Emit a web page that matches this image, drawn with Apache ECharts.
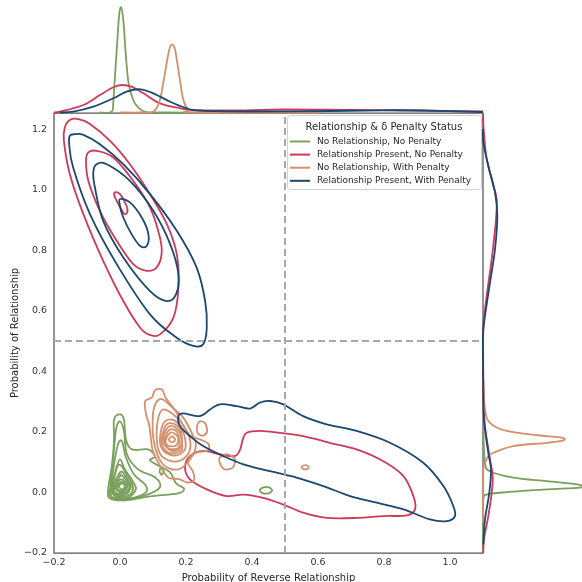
<!DOCTYPE html>
<html><head><meta charset="utf-8">
<script src="https://cdn.jsdelivr.net/npm/echarts@6/dist/echarts.min.js"></script>
<style>html,body{margin:0;padding:0;background:#fff}#c{width:582px;height:582px}</style>
</head><body><div id="c"></div><script>
// ---------- categories / styling keys ----------
const GROUPS = ['No Relationship, No Penalty','Relationship Present, No Penalty','No Relationship, With Penalty','Relationship Present, With Penalty'];
const COLORS = ['#79a15c','#cf3a58','#d48f6c','#1b4770'];
const LEGEND_TITLE = 'Relationship & \u03b4 Penalty Status';
const X_RANGE = [-0.2, 1.1];
const Y_RANGE = [-0.2, 1.253];
const TICK_STEP = 0.2;
const THRESHOLD = 0.5;

// ---------- KDE contour paths (data units) ----------
const greenContours = [
  [[-0.003,0.020],[0.006,0.030],[0.015,0.020],[0.006,0.010]],
  [[-0.008,0.020],[0.005,0.036],[0.020,0.021],[0.008,0.005],[-0.005,0.008]],
  [[-0.012,0.020],[0.003,0.043],[0.024,0.023],[0.009,0.000],[-0.009,0.007]],
  [[-0.017,0.018],[-0.002,0.050],[0.006,0.056],[0.029,0.021],[0.014,-0.003],[-0.012,-0.002]],
  [[-0.021,0.017],[-0.006,0.056],[0.006,0.069],[0.021,0.046],[0.033,0.020],[0.018,-0.007],[-0.009,-0.007]],
  [[-0.023,0.015],[-0.009,0.083],[0.003,0.089],[0.018,0.063],[0.036,0.030],[0.039,0.007],[0.021,-0.012],[-0.012,-0.010]],
  [[-0.024,0.013],[-0.012,0.076],[0.000,0.109],[0.015,0.076],[0.039,0.036],[0.048,0.010],[0.024,-0.017],[-0.015,-0.013]],
  [[-0.027,0.010],[-0.018,0.093],[-0.006,0.159],[0.006,0.169],[0.018,0.116],[0.042,0.060],[0.076,0.026],[0.079,0.000],[0.030,-0.020],[-0.021,-0.017]],
  [[-0.030,0.010],[-0.021,0.109],[-0.012,0.208],[0.000,0.235],[0.012,0.202],[0.021,0.126],[0.055,0.076],[0.106,0.050],[0.121,0.017],[0.076,-0.010],[0.015,-0.023],[-0.027,-0.017]],
  [[0.000,0.258],[0.012,0.241],[0.018,0.175],[0.036,0.142],[0.085,0.142],[0.106,0.119],[0.091,0.106],[0.121,0.086],[0.152,0.066],[0.170,0.030],[0.194,0.013],[0.176,-0.003],[0.091,-0.013],[0.015,-0.026],[-0.030,-0.020],[-0.036,0.010],[-0.024,0.093],[-0.018,0.175],[-0.018,0.241]],
  [[0.120,0.071],[0.126,0.084],[0.132,0.071],[0.126,0.058]],
  [[0.424,0.007],[0.433,0.016],[0.451,0.017],[0.461,0.007],[0.451,-0.002],[0.433,-0.003]]
];
const redContours = [
  [[-0.167,1.206],[-0.152,1.230],[-0.126,1.233],[-0.091,1.217],[-0.030,1.161],[0.030,1.084],[0.091,0.985],[0.142,0.886],[0.172,0.787],[0.177,0.677],[0.162,0.578],[0.121,0.522],[0.091,0.520],[0.061,0.544],[0.010,0.632],[-0.051,0.765],[-0.111,0.919],[-0.152,1.051],[-0.170,1.161]],
  [[-0.096,1.123],[-0.071,1.128],[-0.020,1.106],[0.040,1.029],[0.091,0.941],[0.121,0.842],[0.126,0.787],[0.111,0.743],[0.081,0.732],[0.040,0.754],[-0.010,0.831],[-0.061,0.930],[-0.096,1.029],[-0.103,1.095]],
  [[-0.015,0.991],[0.000,0.985],[0.020,0.946],[0.022,0.925],[0.012,0.921],[-0.005,0.952],[-0.017,0.980]],
  [[0.384,0.197],[0.424,0.203],[0.485,0.197],[0.555,0.186],[0.636,0.164],[0.717,0.142],[0.798,0.103],[0.859,0.054],[0.889,-0.012],[0.894,-0.056],[0.869,-0.076],[0.798,-0.078],[0.717,-0.084],[0.626,-0.084],[0.555,-0.067],[0.495,-0.040],[0.434,-0.018],[0.374,-0.007],[0.323,-0.012],[0.263,0.010],[0.212,0.043],[0.197,0.082],[0.212,0.120],[0.252,0.137],[0.303,0.126],[0.348,0.120],[0.364,0.142],[0.372,0.175]]
];
const orangeContours = [
  [[0.148,0.175],[0.158,0.185],[0.167,0.175],[0.158,0.165]],
  [[0.139,0.175],[0.155,0.198],[0.176,0.182],[0.170,0.155],[0.145,0.155]],
  [[0.135,0.174],[0.150,0.207],[0.171,0.202],[0.180,0.169],[0.176,0.147],[0.148,0.145]],
  [[0.130,0.172],[0.145,0.215],[0.167,0.215],[0.185,0.185],[0.182,0.145],[0.152,0.139]],
  [[0.126,0.170],[0.138,0.220],[0.159,0.228],[0.183,0.207],[0.188,0.165],[0.186,0.139],[0.159,0.129],[0.139,0.137]],
  [[0.121,0.169],[0.130,0.225],[0.152,0.241],[0.176,0.228],[0.194,0.192],[0.197,0.142],[0.167,0.122],[0.133,0.136]],
  [[0.112,0.165],[0.115,0.241],[0.130,0.274],[0.158,0.261],[0.188,0.228],[0.212,0.175],[0.206,0.126],[0.170,0.102],[0.127,0.119]],
  [[0.103,0.165],[0.100,0.258],[0.112,0.301],[0.130,0.307],[0.158,0.281],[0.191,0.248],[0.218,0.195],[0.230,0.155],[0.212,0.109],[0.176,0.076],[0.130,0.093]],
  [[0.076,0.301],[0.097,0.314],[0.106,0.337],[0.127,0.340],[0.139,0.311],[0.167,0.271],[0.188,0.228],[0.212,0.188],[0.242,0.175],[0.267,0.162],[0.267,0.139],[0.233,0.132],[0.212,0.116],[0.206,0.096],[0.221,0.069],[0.224,0.040],[0.203,0.033],[0.182,0.043],[0.164,0.046],[0.145,0.050],[0.121,0.089],[0.100,0.136],[0.094,0.175],[0.088,0.225],[0.079,0.258]],
  [[0.233,0.215],[0.242,0.235],[0.258,0.228],[0.264,0.202],[0.252,0.188],[0.236,0.195]],
  [[0.303,0.116],[0.327,0.126],[0.348,0.109],[0.342,0.083],[0.318,0.076],[0.303,0.096]],
  [[0.550,0.083],[0.556,0.089],[0.567,0.089],[0.572,0.083],[0.567,0.077],[0.556,0.077]]
];
const blueContours = [
  [[-0.152,1.178],[-0.136,1.183],[-0.111,1.181],[-0.061,1.150],[0.010,1.084],[0.091,0.985],[0.172,0.864],[0.232,0.743],[0.258,0.632],[0.263,0.544],[0.252,0.489],[0.222,0.484],[0.172,0.511],[0.091,0.588],[-0.010,0.754],[-0.091,0.919],[-0.142,1.073],[-0.154,1.150]],
  [[-0.071,1.084],[-0.040,1.084],[0.030,1.029],[0.101,0.930],[0.152,0.820],[0.177,0.721],[0.170,0.655],[0.142,0.632],[0.091,0.665],[0.010,0.776],[-0.051,0.897],[-0.076,1.007],[-0.081,1.057]],
  [[0.000,0.969],[0.030,0.958],[0.066,0.908],[0.086,0.853],[0.081,0.814],[0.061,0.814],[0.035,0.853],[0.010,0.908],[0.000,0.946]],
  [[0.177,0.252],[0.192,0.261],[0.242,0.252],[0.273,0.274],[0.303,0.291],[0.354,0.285],[0.394,0.277],[0.424,0.297],[0.455,0.302],[0.495,0.291],[0.555,0.252],[0.626,0.225],[0.717,0.203],[0.818,0.164],[0.919,0.098],[0.980,0.021],[1.010,-0.045],[1.015,-0.078],[0.990,-0.095],[0.939,-0.089],[0.859,-0.056],[0.778,-0.034],[0.697,-0.012],[0.616,0.021],[0.535,0.049],[0.455,0.070],[0.374,0.093],[0.313,0.120],[0.252,0.153],[0.212,0.186],[0.182,0.219]]
];

// ---------- marginal densities (top: [x, density], right: [density, y]) ----------
const topGreen  = [[-0.061,0.05],[-0.025,0.13],[-0.020,1.3],[-0.010,6.3],[-0.003,9.63],[0.003,10.57],[0.010,9.3],[0.018,5.63],[0.026,2.97],[0.040,1.3],[0.055,0.57],[0.076,0.13],[0.121,0.05],[0.300,0.05]];
const topRed    = [[-0.2,0.05],[-0.182,0.13],[-0.111,0.8],[-0.061,1.8],[-0.020,2.57],[0.005,2.8],[0.035,2.63],[0.071,1.97],[0.121,0.97],[0.182,0.47],[0.222,0.3],[0.333,0.25],[0.494,0.35],[0.697,0.3],[0.909,0.25],[1.1,0.15]];
const topOrange = [[0.0,0.05],[0.061,0.05],[0.101,0.13],[0.121,1.3],[0.136,3.97],[0.149,6.3],[0.158,6.87],[0.167,6.3],[0.180,3.63],[0.192,1.3],[0.207,0.3],[0.227,0.05],[0.6,0.05]];
const topBlue   = [[-0.182,0.05],[-0.142,0.13],[-0.081,0.63],[-0.020,1.47],[0.020,2.13],[0.061,2.37],[0.101,1.97],[0.152,1.13],[0.202,0.47],[0.242,0.23],[0.394,0.15],[0.636,0.2],[0.797,0.27],[0.909,0.25],[1.1,0.1]];

const rightGreen  = [[0.03,0.20],[0.2,0.098],[0.7,0.070],[3.03,0.049],[6.37,0.037],[9.53,0.026],[9.7,0.016],[6.37,0.010],[2.37,0.001],[0.37,-0.007],[0.03,-0.023],[0.02,-0.089],[0.0,-0.19]];
const rightRed    = [[0.02,1.25],[0.03,1.217],[0.15,1.167],[0.37,1.101],[1.03,1.013],[1.37,0.969],[1.3,0.902],[1.1,0.836],[0.87,0.770],[0.37,0.649],[0.03,0.549],[0.02,0.440],[0.05,0.307],[0.2,0.219],[0.7,0.109],[0.97,0.054],[0.87,-0.001],[0.53,-0.078],[0.1,-0.155],[0.03,-0.2]];
const rightOrange = [[0.03,0.374],[0.2,0.274],[0.7,0.230],[2.37,0.203],[5.7,0.188],[7.87,0.181],[8.03,0.172],[6.37,0.164],[3.03,0.153],[1.03,0.131],[0.53,0.120],[0.2,0.098],[0.03,0.076],[0.03,0.0],[0.0,-0.1]];
const rightBlue   = [[0.0,1.2],[0.03,1.156],[0.53,1.079],[1.2,0.991],[1.43,0.913],[1.2,0.803],[0.7,0.693],[0.2,0.583],[0.0,0.517],[0.02,0.374],[0.1,0.241],[0.53,0.131],[0.8,0.076],[0.63,-0.001],[0.2,-0.089],[0.03,-0.172]];

// ---------- helpers ----------
const FONT = 'DejaVu Sans';
const LW = 1.8;
const fmt = v => Math.abs(v) < 1e-9 ? '0.0' : (v < 0 ? '\u2212' : '') + Math.abs(v).toFixed(1);

// Catmull-Rom spline through pixel points -> SVG path
function splinePath(pts, closed) {
  const n = pts.length;
  const get = i => closed ? pts[(i + n) % n] : pts[Math.max(0, Math.min(n - 1, i))];
  let d = 'M' + pts[0][0].toFixed(2) + ',' + pts[0][1].toFixed(2);
  const segs = closed ? n : n - 1;
  for (let i = 0; i < segs; i++) {
    const p0 = get(i - 1), p1 = get(i), p2 = get(i + 1), p3 = get(i + 2);
    const c1x = p1[0] + (p2[0] - p0[0]) / 6, c1y = p1[1] + (p2[1] - p0[1]) / 6;
    const c2x = p2[0] - (p3[0] - p1[0]) / 6, c2y = p2[1] - (p3[1] - p1[1]) / 6;
    d += ' C' + c1x.toFixed(2) + ',' + c1y.toFixed(2) + ' ' + c2x.toFixed(2) + ',' + c2y.toFixed(2) + ' ' + p2[0].toFixed(2) + ',' + p2[1].toFixed(2);
  }
  if (closed) d += ' Z';
  return d;
}

function curveSeries(name, color, curves, closed, axisIdx) {
  return {
    type: 'custom', name: name, coordinateSystem: 'cartesian2d',
    xAxisIndex: axisIdx, yAxisIndex: axisIdx, silent: true, z: 2,
    data: curves.map((c, i) => [i, i]),
    itemStyle: { color: color },
    renderItem: function (params, api) {
      const pts = curves[params.dataIndex].map(p => api.coord(p));
      return { type: 'path', shape: { pathData: splinePath(pts, closed) },
        style: { stroke: color, fill: 'none', lineWidth: LW, lineJoin: 'round' } };
    }
  };
}

const series = [];
[greenContours, redContours, orangeContours, blueContours].forEach((set, gi) => {
  series.push(curveSeries(GROUPS[gi], COLORS[gi], set, true, 0));
});
[topGreen, topRed, topOrange, topBlue].forEach((d, gi) => {
  series.push(curveSeries(GROUPS[gi], COLORS[gi], [d], false, 1));
});
[rightGreen, rightRed, rightOrange, rightBlue].forEach((d, gi) => {
  series.push(curveSeries(GROUPS[gi], COLORS[gi], [d], false, 2));
});
series.push({
  type: 'line', xAxisIndex: 0, yAxisIndex: 0, data: [], symbol: 'none', z: 3, silent: true,
  markLine: { silent: true, symbol: 'none', label: { show: false }, animation: false,
    lineStyle: { color: '#a8a8a8', width: 2, type: [7, 4] },
    data: [{ xAxis: THRESHOLD }, { yAxis: THRESHOLD }] }
});

// legend drawn as graphic elements (box, title, handles, labels)
const LEG = { x: 287, y: 115, w: 194, h: 74, row0: 141.5, rowGap: 13.1, hx: 290, hw: 20, tx: 317 };
const legendEls = [
  { type: 'rect', shape: { x: LEG.x + 0.5, y: LEG.y + 0.5, width: LEG.w, height: LEG.h, r: 3 },
    style: { fill: '#ffffff', stroke: '#d0d0d0', lineWidth: 1 }, z: 100, silent: true },
  { type: 'text', x: LEG.x + LEG.w / 2, y: 127.5, z: 101, silent: true,
    style: { text: LEGEND_TITLE, fontSize: 10, fontFamily: FONT, fill: '#262626',
      textAlign: 'center', textVerticalAlign: 'middle', align: 'center', verticalAlign: 'middle' } }
];
GROUPS.forEach((g, i) => {
  const yy = LEG.row0 + i * LEG.rowGap;
  legendEls.push({ type: 'line', z: 101, silent: true,
    shape: { x1: LEG.hx, y1: yy, x2: LEG.hx + LEG.hw, y2: yy },
    style: { stroke: COLORS[i], lineWidth: 2 } });
  legendEls.push({ type: 'text', x: LEG.tx, y: yy, z: 101, silent: true,
    style: { text: g, fontSize: 9, fontFamily: FONT, fill: '#262626',
      textAlign: 'left', textVerticalAlign: 'middle', align: 'left', verticalAlign: 'middle' } });
});

const chart = echarts.init(document.getElementById('c'), null, { renderer: 'canvas' });
chart.setOption({
  animation: false,
  backgroundColor: '#ffffff',
  grid: [
    { left: 54, right: 99, top: 113, bottom: 29, show: true, borderColor: '#555555', borderWidth: 1.25,
      backgroundColor: 'transparent', containLabel: false, outerBoundsMode: 'none' },
    { left: 54, right: 99, top: 0, height: 113, containLabel: false, outerBoundsMode: 'none' },
    { left: 483, right: 0, top: 113, bottom: 29, containLabel: false, outerBoundsMode: 'none' }
  ],
  xAxis: [
    { type: 'value', gridIndex: 0, min: X_RANGE[0], max: X_RANGE[1], interval: TICK_STEP,
      name: 'Probability of Reverse Relationship', nameLocation: 'middle', nameGap: 20, nameMoveOverlap: false,
      nameTextStyle: { fontSize: 10, color: '#262626', fontFamily: FONT },
      axisLine: { show: false }, axisTick: { show: false }, splitLine: { show: false },
      axisLabel: { formatter: fmt, fontSize: 9.5, color: '#333', fontFamily: FONT, margin: 5, showMaxLabel: false } },
    { type: 'value', gridIndex: 1, min: X_RANGE[0], max: X_RANGE[1], show: false },
    { type: 'value', gridIndex: 2, min: 0, max: 9.9, show: false }
  ],
  yAxis: [
    { type: 'value', gridIndex: 0, min: Y_RANGE[0], max: Y_RANGE[1], interval: TICK_STEP,
      name: 'Probability of Relationship', nameLocation: 'middle', nameGap: 34, nameRotate: 90, nameMoveOverlap: false,
      nameTextStyle: { fontSize: 10, color: '#262626', fontFamily: FONT },
      axisLine: { show: false }, axisTick: { show: false }, splitLine: { show: false },
      axisLabel: { formatter: fmt, fontSize: 9.5, color: '#333', fontFamily: FONT, margin: 7, showMaxLabel: false } },
    { type: 'value', gridIndex: 1, min: 0, max: 11.3, show: false },
    { type: 'value', gridIndex: 2, min: Y_RANGE[0], max: Y_RANGE[1], show: false }
  ],
  graphic: { elements: legendEls },
  series: series
});
</script></body></html>
